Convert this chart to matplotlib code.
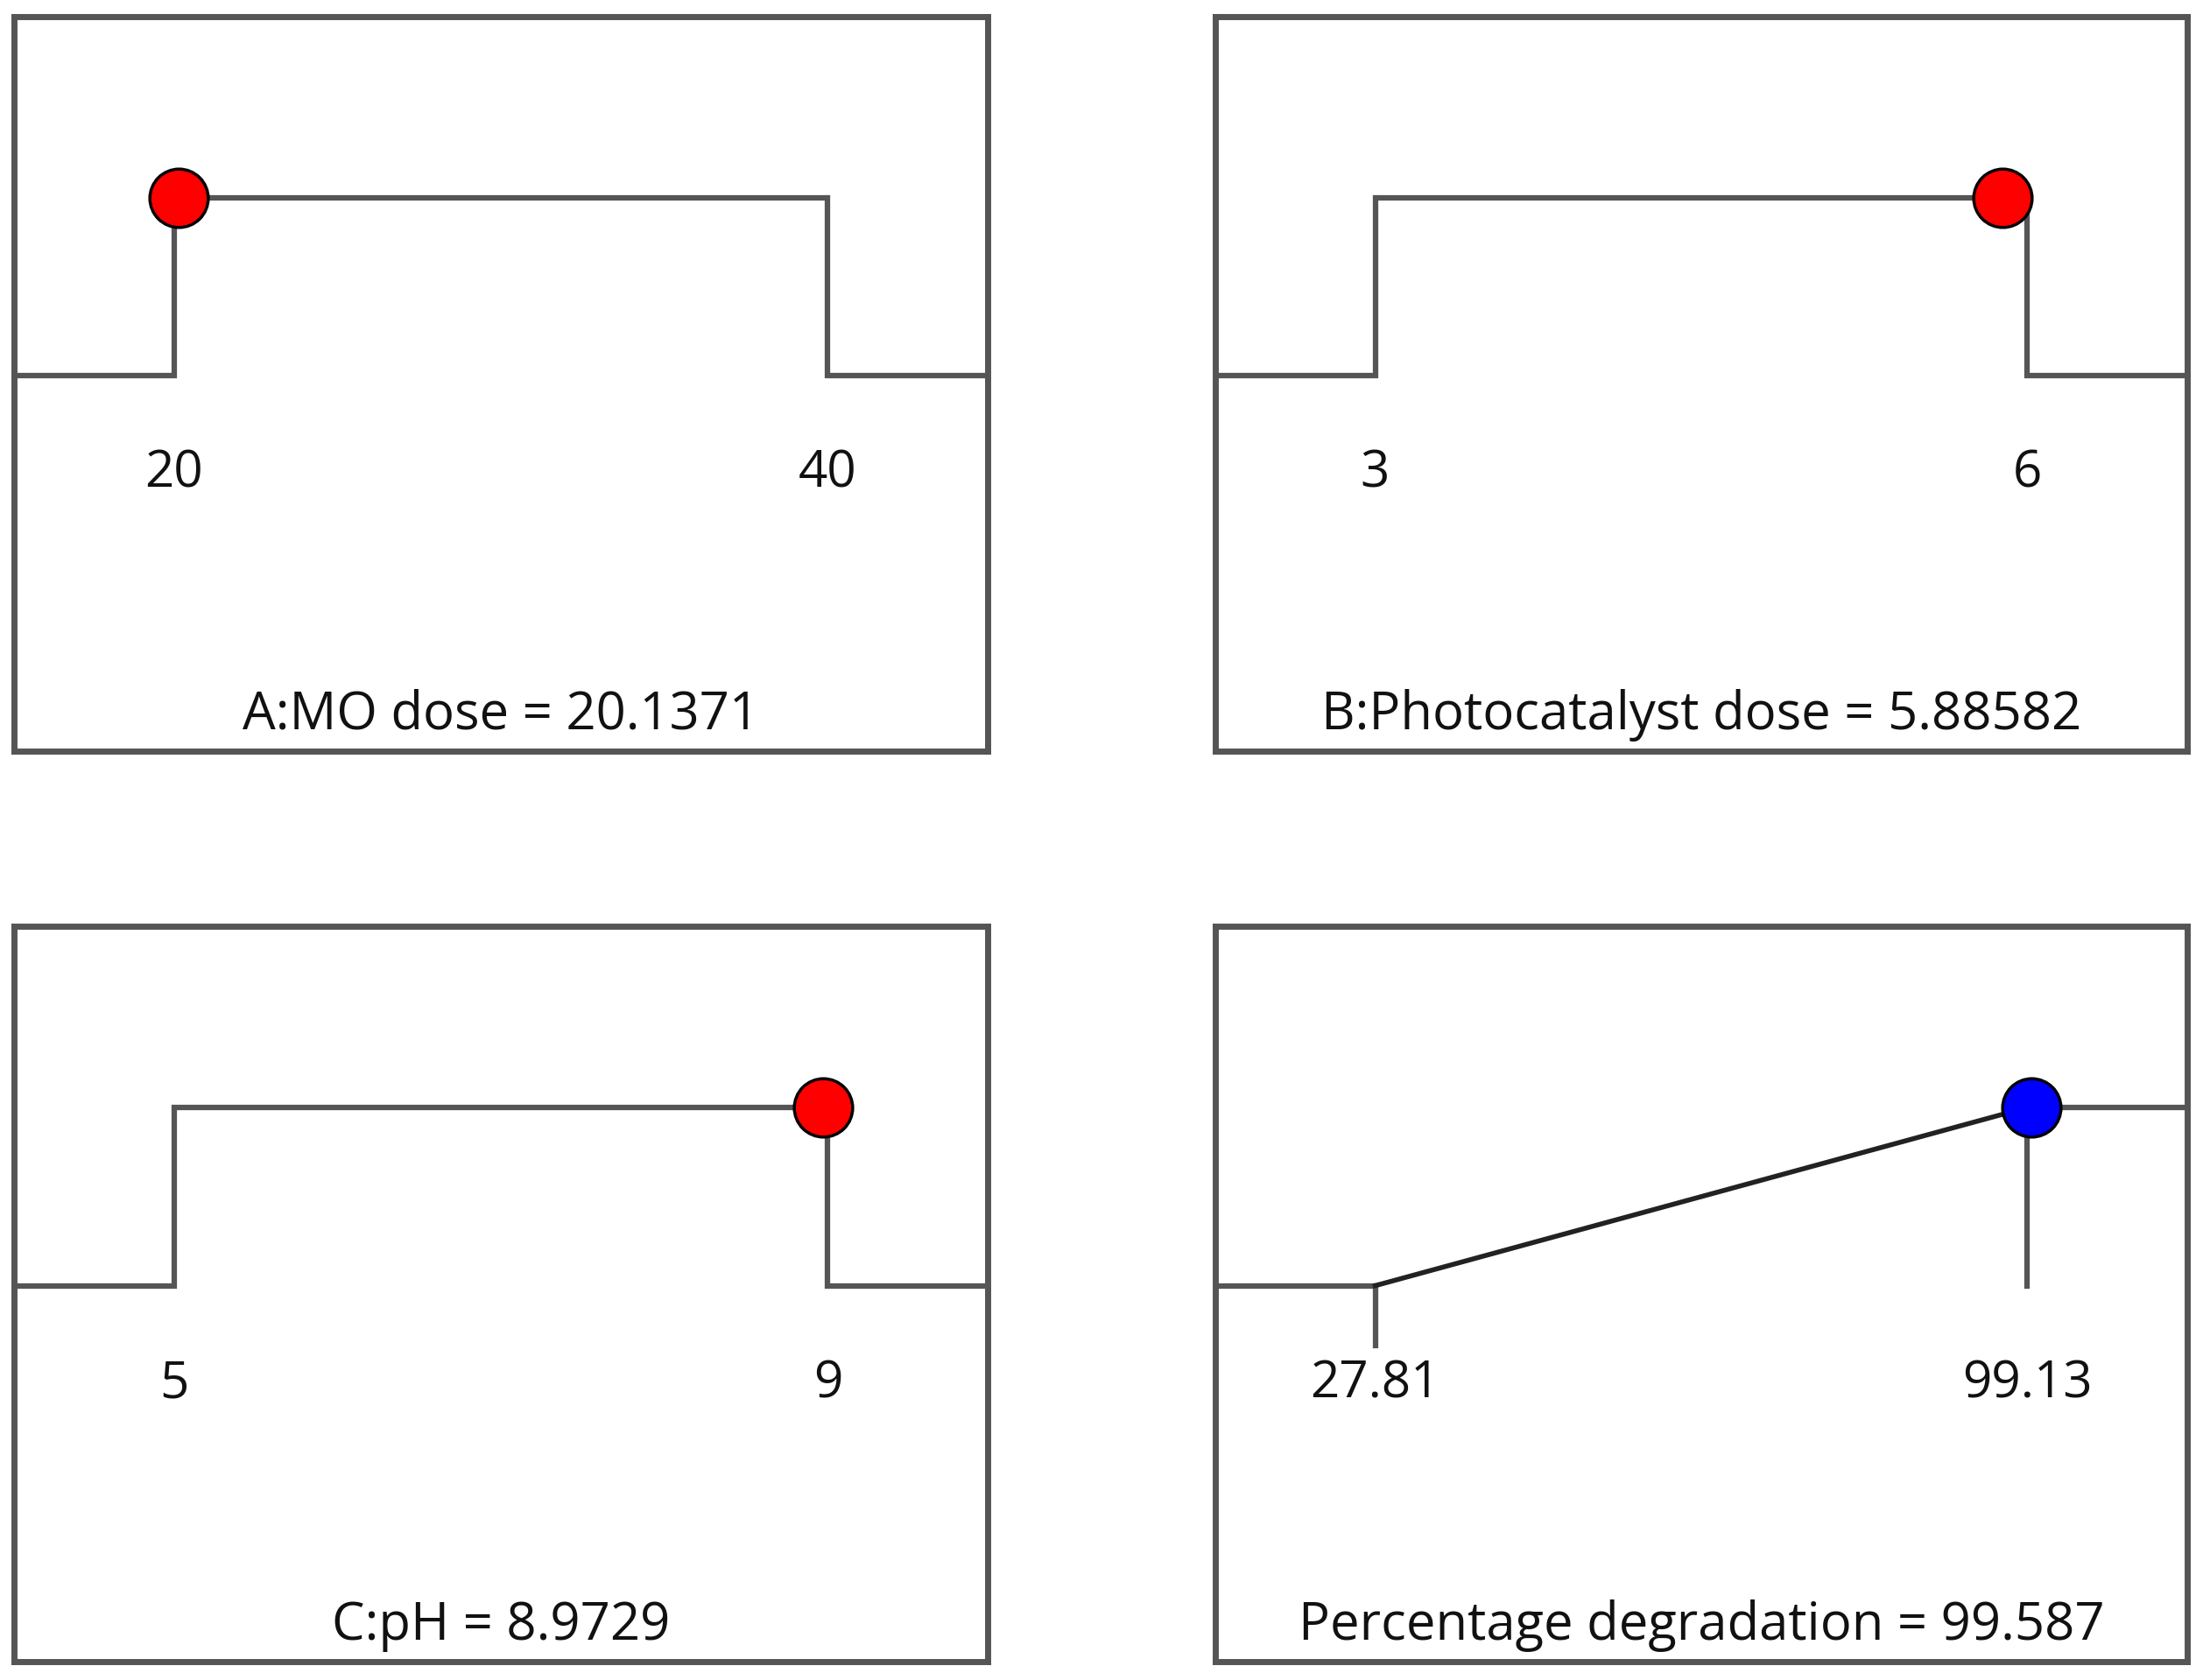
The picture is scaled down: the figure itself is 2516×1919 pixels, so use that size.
import numpy as np
import matplotlib.pyplot as plt

# factor ranges and optimum values
names = ["A:MO dose", "B:Photocatalyst dose", "C:pH", "Percentage degradation"]
lows = [20, 3, 5, 27.81]
highs = [40, 6, 9, 99.13]
low_labels = ["20", "3", "5", "27.81"]
high_labels = ["40", "6", "9", "99.13"]
optimum = [20.1371, 5.88582, 8.9729, 99.587]
optimum_labels = ["20.1371", "5.88582", "8.9729", "99.587"]
dot_colors = ["#ff0000", "#ff0000", "#ff0000", "#0000ff"]
is_response = [False, False, False, True]

plt.rcParams['font.family'] = ['Open Sans', 'DejaVu Sans']

fig = plt.figure(figsize=(25.16, 19.19), dpi=100)
positions = [
    [0.0064, 0.553, 0.442, 0.437],
    [0.5517, 0.553, 0.441, 0.437],
    [0.0064, 0.0109, 0.442, 0.438],
    [0.5517, 0.0109, 0.441, 0.438],
]

LINE = "#555555"
Y_LO, Y_HI = 0.511, 0.753

for i in range(4):
    ax = fig.add_axes(positions[i])
    lo, hi = lows[i], highs[i]
    span = hi - lo
    xmin, xmax = lo - 0.245 * span, hi + 0.245 * span
    ax.set_xlim(xmin, xmax)
    ax.set_ylim(0, 1)

    if not is_response[i]:
        ax.plot([xmin, lo, lo, hi, hi, xmax], [Y_LO, Y_LO, Y_HI, Y_HI, Y_LO, Y_LO],
                color=LINE, lw=4.5, solid_joinstyle='miter', zorder=2)
    else:
        ax.plot([xmin, lo], [Y_LO, Y_LO], color=LINE, lw=4.5, zorder=2)
        ax.plot([lo, lo], [Y_LO, 0.43], color=LINE, lw=4.5, zorder=2)
        ax.plot([lo, hi], [Y_LO, Y_HI], color="#222222", lw=4, zorder=3)
        ax.plot([hi, hi], [Y_LO, Y_HI], color=LINE, lw=4.5, zorder=2)
        ax.plot([hi, xmax], [Y_HI, Y_HI], color=LINE, lw=4.5, zorder=2)
    ax.plot(optimum[i], Y_HI, 'o', ms=48, mfc=dot_colors[i], mec='black', mew=2.5, zorder=4)

    ax.text(lo, 0.377, low_labels[i], ha='center', va='center', fontsize=42, color='#111111')
    ax.text(hi, 0.377, high_labels[i], ha='center', va='center', fontsize=42, color='#111111')
    ax.text(0.5, 0.049, names[i] + " = " + optimum_labels[i], transform=ax.transAxes,
            ha='center', va='center', fontsize=43, color='#111111')

    ax.set_xticks([])
    ax.set_yticks([])
    for s in ax.spines.values():
        s.set_color(LINE)
        s.set_linewidth(5)

fig.savefig("out.png", dpi=100)
